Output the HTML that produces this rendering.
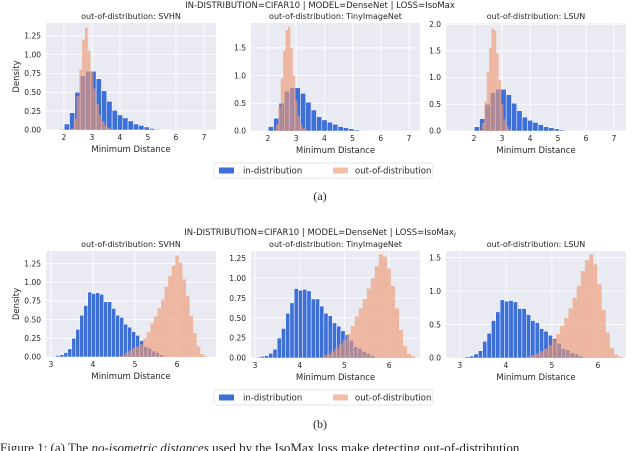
<!DOCTYPE html>
<html><head><meta charset="utf-8"><style>
html,body{margin:0;padding:0;background:#fff;width:640px;height:451px;overflow:hidden}
svg text{font-family:"DejaVu Sans","Liberation Sans",sans-serif;fill:#262626}
</style></head><body>
<svg id="fig" width="640" height="451" xmlns="http://www.w3.org/2000/svg">
<text x="320" y="8" font-size="8.5" text-anchor="middle">IN-DISTRIBUTION=CIFAR10 | MODEL=DenseNet | LOSS=IsoMax</text>
<text x="320" y="235" font-size="8.5" text-anchor="middle">IN-DISTRIBUTION=CIFAR10 | MODEL=DenseNet | LOSS=IsoMax<tspan font-size="6" dy="2" font-style="italic">I</tspan></text>
<text x="320" y="200" font-size="12" text-anchor="middle" style="font-family:'Liberation Serif',serif">(a)</text>
<text x="320" y="428" font-size="12" text-anchor="middle" style="font-family:'Liberation Serif',serif">(b)</text>
<text x="0" y="452" font-size="13" style="font-family:'Liberation Serif',serif">Figure 1: (a) The <tspan font-style="italic">no-isometric distances</tspan> used by the IsoMax loss make detecting out-of-distribution</text>
</svg>
<script>
// ---- data ----
const topInStart = 1.82, topInWidth = 0.19;
const topInValues = [0.01,0.08,0.23,0.50,0.72,0.78,0.78,0.68,0.52,0.38,0.26,0.20,0.16,0.12,0.08,0.06,0.04,0.02,0.01,0.005];
const topOutStartSVHN = 2.25, topOutWidthSVHN = 0.1;
const topOutSVHN = [0.02,0.15,0.45,0.80,1.20,1.36,1.05,0.78,0.55,0.35,0.20,0.12,0.06,0.03,0.01];
const topOutStartTiny = 2.2, topOutWidthTiny = 0.085;
const topOutTiny = [0.02,0.12,0.45,0.95,1.45,1.82,1.88,1.50,1.00,0.55,0.28,0.12,0.05,0.02];
const topOutStartLSUN = 2.2, topOutWidthLSUN = 0.085;
const topOutLSUN = [0.02,0.15,0.55,1.10,1.55,1.92,1.88,1.45,0.95,0.50,0.22,0.10,0.04,0.01];
const botInStart = 3.02, botInWidth = 0.095;
const botInValues = [0.01,0.02,0.03,0.06,0.11,0.25,0.37,0.56,0.69,0.87,0.85,0.86,0.84,0.74,0.74,0.65,0.56,0.53,0.44,0.40,0.34,0.29,0.22,0.14,0.12,0.08,0.06,0.03,0.01];
const botOutStartSVHN = 4.6, botOutWidthSVHN = 0.085;
const botOutSVHN = [0.01,0.03,0.06,0.09,0.12,0.14,0.17,0.25,0.33,0.45,0.54,0.65,0.77,0.94,1.08,1.22,1.36,1.26,1.04,0.82,0.55,0.32,0.14,0.04,0.01];
const botOutStartTiny = 4.42, botOutWidthTiny = 0.09;
const botOutTiny = [0.01,0.03,0.05,0.08,0.12,0.17,0.22,0.30,0.40,0.52,0.62,0.74,0.87,1.00,1.15,1.30,1.27,1.12,0.90,0.62,0.35,0.15,0.05,0.02];
const botOutStartLSUN = 4.37, botOutWidthLSUN = 0.09;
const botOutLSUN = [0.01,0.02,0.04,0.07,0.10,0.14,0.19,0.27,0.36,0.48,0.60,0.74,0.90,1.08,1.30,1.46,1.55,1.40,1.10,0.72,0.38,0.15,0.05,0.02];
const topXTicks = [2,3,4,5,6,7];
const botXTicks = [3,4,5,6];
const yTicksA = ["0.00","0.25","0.50","0.75","1.00","1.25"];
const yTicksB = ["0.0","0.5","1.0","1.5"];
const yTicksC = ["0.0","0.5","1.0","1.5","2.0"];

const NS="http://www.w3.org/2000/svg", svg=document.getElementById('fig');
function mk(tag,attrs,parent){const e=document.createElementNS(NS,tag);for(const k in attrs)e.setAttribute(k,attrs[k]);(parent||svg).appendChild(e);return e;}

function panel(p){
  const g=mk('g',{});
  
  
  const sx=v=>p.x0+(v-p.xmin)/(p.xmax-p.xmin)*(p.x1-p.x0);
  const sy=v=>p.y1-(v-0)/(p.ymax)*(p.y1-p.y0);
  const bg=mk('rect',{x:p.x0,y:p.y0,width:p.x1-p.x0,height:p.y1-p.y0,fill:'#eaeaf2'},g);
  
  
  p.xt.forEach(t=>{const x=sx(t);
    mk('line',{x1:x,x2:x,y1:p.y0,y2:p.y1,stroke:'#fff','stroke-width':0.8},g);
    const tx=mk('text',{x:x,y:p.y1+10,'font-size':7.5,'text-anchor':'middle'},g);tx.textContent=t;
    
    });
  p.yt.forEach(t=>{const y=sy(parseFloat(t));
    mk('line',{x1:p.x0,x2:p.x1,y1:y,y2:y,stroke:'#fff','stroke-width':0.8},g);
    const tx=mk('text',{x:p.x0-5,y:y+2.7,'font-size':7.5,'text-anchor':'end'},g);tx.textContent=t;
    
    });
  const clip='c'+p.name; const cp=mk('clipPath',{id:clip},g);
  mk('rect',{x:p.x0,y:p.y0,width:p.x1-p.x0,height:p.y1-p.y0},cp);
  const bars=mk('g',{'clip-path':'url(#'+clip+')'},g);
  p.inV.forEach((v,i)=>{const a=sx(p.inS+i*p.inW),b=sx(p.inS+(i+1)*p.inW);
    const r=mk('rect',{x:a,y:sy(v),width:b-a,height:sy(0)-sy(v),fill:'#3d6fd8',stroke:'#fff','stroke-width':0.5},bars);
    
    });
  p.outV.forEach((v,i)=>{const a=sx(p.outS+i*p.outW),b=sx(p.outS+(i+1)*p.outW);
    const r=mk('rect',{x:a,y:sy(v),width:b-a,height:sy(0)-sy(v),fill:'#ee9a74','fill-opacity':0.65},bars);
    
    });
  const t=mk('text',{x:(p.x0+p.x1)/2,y:p.y0-4,'font-size':8,'text-anchor':'middle'},g);t.textContent=p.title;
  
  
  const xl=mk('text',{x:(p.x0+p.x1)/2,y:p.y1+22,'font-size':8.5,'text-anchor':'middle'},g);xl.textContent='Minimum Distance';
  
  
  if(p.ylab){const yl=mk('text',{x:0,y:0,'font-size':8.5,'text-anchor':'middle',transform:`translate(${p.x0-27},${(p.y0+p.y1)/2}) rotate(-90)`},g);yl.textContent='Density';
    
    }
}
const T=[46,216],M=[251,420],R=[446,626];
panel({name:'panel-a-svhn',x0:T[0],x1:T[1],y0:23,y1:130,xmin:1.36,xmax:7.43,ymax:1.42,xt:topXTicks,yt:yTicksA,inS:topInStart,inW:topInWidth,inV:topInValues,outS:topOutStartSVHN,outW:topOutWidthSVHN,outV:topOutSVHN,title:'out-of-distribution: SVHN',ylab:true});
panel({name:'panel-a-tiny',x0:M[0],x1:M[1],y0:23,y1:131,xmin:1.40,xmax:7.39,ymax:1.95,xt:topXTicks,yt:yTicksB,inS:topInStart,inW:topInWidth,inV:topInValues,outS:topOutStartTiny,outW:topOutWidthTiny,outV:topOutTiny,title:'out-of-distribution: TinyImageNet'});
panel({name:'panel-a-lsun',x0:R[0],x1:R[1],y0:23,y1:131,xmin:1.0,xmax:7.43,ymax:2.02,xt:topXTicks,yt:yTicksC,inS:topInStart,inW:topInWidth,inV:topInValues,outS:topOutStartLSUN,outW:topOutWidthLSUN,outV:topOutLSUN,title:'out-of-distribution: LSUN'});
panel({name:'panel-b-svhn',x0:T[0],x1:T[1],y0:251,y1:357,xmin:2.88,xmax:6.93,ymax:1.42,xt:botXTicks,yt:yTicksA,inS:botInStart,inW:botInWidth,inV:botInValues,outS:botOutStartSVHN,outW:botOutWidthSVHN,outV:botOutSVHN,title:'out-of-distribution: SVHN',ylab:true});
panel({name:'panel-b-tiny',x0:M[0],x1:M[1],y0:251,y1:358,xmin:2.91,xmax:6.69,ymax:1.34,xt:botXTicks,yt:yTicksA,inS:botInStart,inW:botInWidth,inV:botInValues,outS:botOutStartTiny,outW:botOutWidthTiny,outV:botOutTiny,title:'out-of-distribution: TinyImageNet'});
panel({name:'panel-b-lsun',x0:R[0],x1:R[1],y0:251,y1:358,xmin:2.70,xmax:6.61,ymax:1.6,xt:botXTicks,yt:yTicksB,inS:botInStart,inW:botInWidth,inV:botInValues,outS:botOutStartLSUN,outW:botOutWidthLSUN,outV:botOutLSUN,title:'out-of-distribution: LSUN'});

function legend(y,name){
  const g=mk('g',{});
  
  
  mk('rect',{x:214,y:y,width:219,height:15,fill:'#fff',stroke:'#ddd','stroke-width':0.7,rx:2},g);
  mk('rect',{x:219,y:y+4.5,width:15,height:6,fill:'#3d6fd8'},g);
  const a=mk('text',{x:243,y:y+10.5,'font-size':8.5},g);a.textContent='in-distribution';
  
  
  mk('rect',{x:333,y:y+4.5,width:15,height:6,fill:'#ee9a74','fill-opacity':0.65},g);
  const b=mk('text',{x:355,y:y+10.5,'font-size':8.5},g);b.textContent='out-of-distribution';
  
  
}
legend(163,'legend-a');
legend(390,'legend-b');
</script>
</body></html>
